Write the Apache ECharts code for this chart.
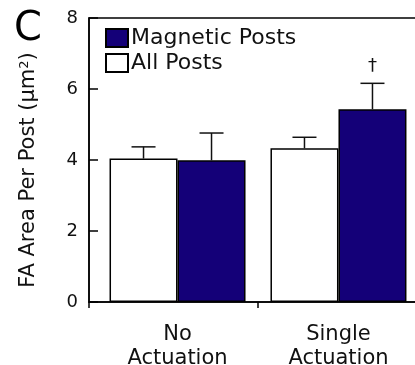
<!DOCTYPE html>
<html>
<head>
<meta charset="utf-8">
<script src="https://cdn.jsdelivr.net/npm/echarts@6/dist/echarts.min.js"></script>
<style>
  html, body { margin: 0; padding: 0; background: #fff; }
  #main { width: 415px; height: 365px; }
</style>
</head>
<body>
<div id="main"></div>
<script>
// 数据
const categories = ['No\nActuation', 'Single\nActuation'];
const groupPos = [1, 2];                 // 每组在x轴上的位置
const allMean = [4.04, 4.33];
const allErr = [0.33, 0.31];
const magMean = [3.99, 5.43];
const magErr = [0.77, 0.73];
const magMarks = ['', '†'];
const yTicks = [0, 2, 4, 6, 8];

const NAVY = '#140078';
const FONT = 'DejaVu Sans';

var myChart = echarts.init(document.getElementById('main'));

// 误差线（custom series）
function errorSeries(means, errs, marks, shift) {
    return {
        type: 'custom',
        silent: true,
        z: 5,
        data: groupPos.map((x, i) => [x, means[i], means[i] + errs[i]]),
        renderItem: function (params, api) {
            const base = api.coord([api.value(0), api.value(1)]);
            const top = api.coord([api.value(0), api.value(2)]);
            const cx = base[0] + shift;
            const mark = marks ? marks[params.dataIndex] : '';
            const children = [
                { type: 'line', shape: { x1: cx, y1: base[1], x2: cx, y2: top[1] },
                  style: { stroke: '#111', lineWidth: 1.5 } },
                { type: 'line', shape: { x1: cx - 12, y1: top[1], x2: cx + 12, y2: top[1] },
                  style: { stroke: '#111', lineWidth: 1.5 } }
            ];
            if (mark) {
                children.push({ type: 'text', x: cx, y: top[1] - 8,
                    style: { text: mark, fill: '#111', font: '18px ' + FONT,
                             align: 'center', verticalAlign: 'bottom' } });
            }
            return { type: 'group', children: children };
        }
    };
}

const option = {
    animation: false,
    title: {
        text: 'C',
        left: 9,
        top: 5,
        textStyle: { fontSize: 40, fontFamily: FONT, fontWeight: 'normal', color: '#000' }
    },
    legend: {
        orient: 'vertical',
        left: 100,
        top: 22,
        itemWidth: 22,
        itemHeight: 18,
        itemGap: 3,
        icon: 'rect',
        data: ['Magnetic Posts', 'All Posts'],
        textStyle: { fontSize: 22, lineHeight: 18, fontFamily: FONT, color: '#111', padding: [0, 0, 0, -2] }
    },
    grid: {
        left: 89,
        top: 18,
        width: 338,
        bottom: 63,
        outerBoundsMode: 'none',
        show: true,
        borderColor: '#000',
        borderWidth: 1.5
    },
    xAxis: {
        type: 'value',
        min: 0.45,
        max: 2.55,
        splitLine: { show: false },
        axisLine: { lineStyle: { color: '#000', width: 1.5 } },
        axisTick: { customValues: [0.45, 1.5], length: 6, inside: false,
                    lineStyle: { color: '#000', width: 1.5 } },
        axisLabel: {
            customValues: groupPos,
            formatter: v => categories[Math.round(v) - 1],
            fontSize: 21,
            lineHeight: 24,
            fontFamily: FONT,
            color: '#111',
            margin: 21
        }
    },
    yAxis: {
        type: 'value',
        min: 0,
        max: 8,
        interval: 2,
        name: 'FA Area Per Post (μm{sup|2})',
        nameLocation: 'middle',
        nameRotate: 90,
        nameGap: 50,
        nameTextStyle: {
            fontSize: 21,
            fontFamily: FONT,
            color: '#111',
            padding: [0, 20, 0, 0],
            rich: { sup: { fontSize: 13, fontFamily: FONT, color: '#111', verticalAlign: 'top', padding: [0, 0, 8, 0] } }
        },
        splitLine: { show: false },
        axisLine: { show: true, lineStyle: { color: '#000', width: 1.5 } },
        axisTick: { inside: true, length: 9, lineStyle: { color: '#000', width: 1.5 } },
        axisLabel: {
            customValues: yTicks,
            fontSize: 18,
            fontFamily: FONT,
            color: '#111',
            margin: 11
        }
    },
    series: [
        {
            name: 'All Posts',
            type: 'bar',
            barWidth: 68,
            barGap: '0%',
            data: groupPos.map((x, i) => [x, allMean[i]]),
            itemStyle: { color: '#fff', borderColor: '#000', borderWidth: 1.5 }
        },
        {
            name: 'Magnetic Posts',
            type: 'bar',
            barWidth: 68,
            barGap: '0%',
            data: groupPos.map((x, i) => [x, magMean[i]]),
            itemStyle: { color: NAVY, borderColor: '#000', borderWidth: 1.5 }
        },
        errorSeries(allMean, allErr, null, -34),
        errorSeries(magMean, magErr, magMarks, 34)
    ]
};

myChart.setOption(option);
window.addEventListener('resize', myChart.resize);
</script>
</body>
</html>
